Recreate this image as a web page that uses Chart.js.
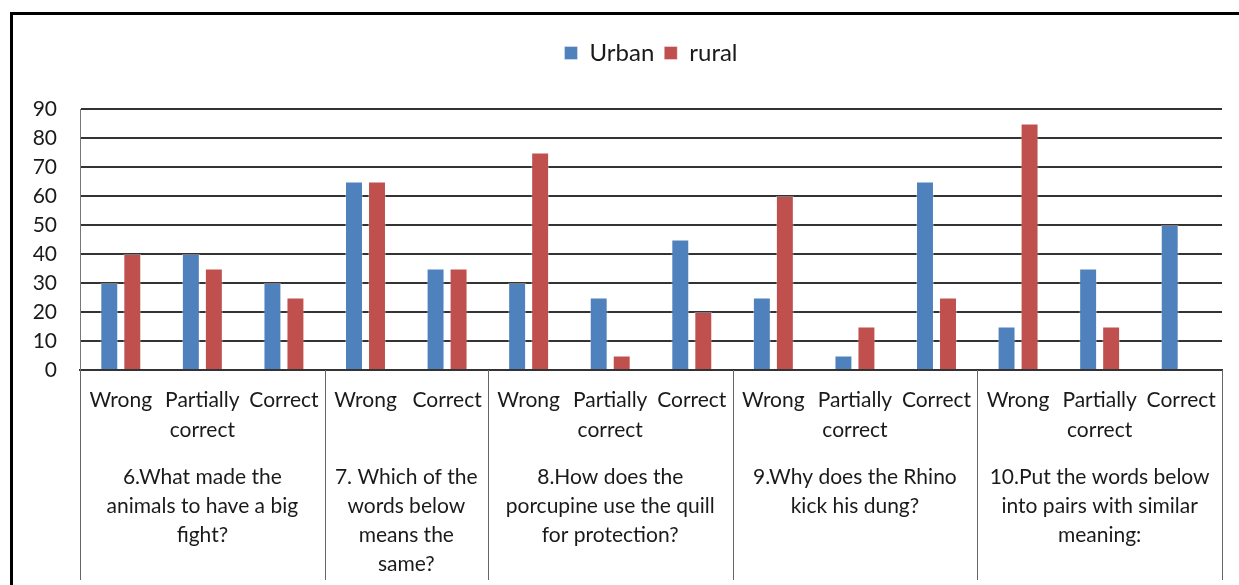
<!DOCTYPE html>
<html><head><meta charset="utf-8">
<script src="https://cdn.jsdelivr.net/npm/chart.js@4/dist/chart.umd.min.js"></script>
<style>
html,body{margin:0;padding:0;background:#fff;overflow:hidden}
#frame{position:absolute;left:10px;top:12px;width:1300px;height:700px;border:3px solid #000;box-sizing:border-box}
#wrap{position:absolute;left:0;top:0;width:1239px;height:585px}
</style></head><body>
<div id="frame"></div>
<div id="wrap"><canvas id="c" width="1239" height="585"></canvas></div>
<script>
// ---- data ----
const answerLabels = ["Wrong","Partially\ncorrect","Correct",
                      "Wrong","Correct",
                      "Wrong","Partially\ncorrect","Correct",
                      "Wrong","Partially\ncorrect","Correct",
                      "Wrong","Partially\ncorrect","Correct"];
const urbanValues = [30,40,30, 65,35, 30,25,45, 25,5,65, 15,35,50];
const ruralValues = [40,35,25, 65,35, 75,5,20, 60,15,25, 85,15,null];
const questionLabels = ["6.What made the\nanimals to have a big\nfight?",
                        "7. Which of the\nwords below\nmeans the\nsame?",
                        "8.How does the\nporcupine use the quill\nfor protection?",
                        "9.Why does the Rhino\nkick his dung?",
                        "10.Put the words below\ninto pairs with similar\nmeaning:"];
const questionSizes = [3,2,3,3,3];

const FONT = 'Lato';
const TXT = '#1a1a1a';

const groupPlugin = {
  id: 'groups',
  afterDraw(chart) {
    const x = chart.scales.x, area = chart.chartArea, ctx = chart.ctx;
    const step = x.getPixelForValue(1) - x.getPixelForValue(0);
    ctx.save();
    ctx.strokeStyle = '#666';
    ctx.lineWidth = 1;
    let start = 0;
    const edges = [x.getPixelForValue(0) - step/2];
    questionSizes.forEach((n, i) => {
      const left = x.getPixelForValue(start) - step/2;
      const right = x.getPixelForValue(start + n - 1) + step/2;
      edges.push(right);
      const cx = (left + right) / 2;
      ctx.fillStyle = TXT;
      ctx.font = '21px ' + FONT;
      ctx.textAlign = 'center';
      ctx.textBaseline = 'middle';
      questionLabels[i].split('\n').forEach((ln, k) => {
        ctx.fillText(ln, cx, 477 + k * 29);
      });
      start += n;
    });
    edges.forEach(e => {
      const xx = Math.round(e) + 0.5;
      ctx.beginPath();
      ctx.moveTo(xx, area.bottom);
      ctx.lineTo(xx, 580);
      ctx.stroke();
    });
    ctx.restore();
  }
};

new Chart(document.getElementById('c'), {
  type: 'bar',
  data: {
    labels: answerLabels.map(s => s.split('\n')),
    datasets: [
      {label: 'Urban', data: urbanValues, backgroundColor: '#4F81BD', borderColor: 'rgba(255,255,255,0.35)', borderWidth: 1},
      {label: 'rural', data: ruralValues, backgroundColor: '#C0504D', borderColor: 'rgba(255,255,255,0.35)', borderWidth: 1}
    ]
  },
  options: {
    responsive: false,
    animation: false,
    devicePixelRatio: 1,
    categoryPercentage: 0.564,
    barPercentage: 0.78,
    layout: {padding: {left: 0, right: 17, top: 31, bottom: 0}},
    plugins: {
      legend: {
        position: 'top',
        fullSize: false,
        labels: {font: {family: FONT, size: 24}, color: TXT, boxWidth: 13, boxHeight: 13, padding: 10}
      },
      title: {display: true, text: '', weight: 500, fullSize: false, font: {size: 10}, padding: {top: 0, bottom: 22}},
      tooltip: {enabled: false}
    },
    scales: {
      x: {
        grid: {display: false, drawTicks: false},
        border: {display: true, color: '#333', width: 2},
        ticks: {autoSkip: false, maxRotation: 0, minRotation: 0, padding: 15,
                font: {family: FONT, size: 21, lineHeight: '30px'}, color: TXT},
        afterFit(s) { s.height = 215; }
      },
      y: {
        min: 0, max: 90,
        grid: {color: '#333', lineWidth: 2, drawTicks: false},
        border: {display: true, color: '#777', width: 1},
        ticks: {stepSize: 10, padding: 23, font: {family: FONT, size: 21}, color: TXT},
        afterFit(s) { s.width = 80; }
      }
    }
  },
  plugins: [groupPlugin]
});
</script>
</body></html>
